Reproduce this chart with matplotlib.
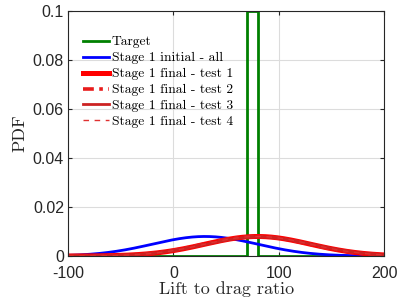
import numpy as np
import matplotlib.pyplot as plt

# target: uniform distribution on [low, high]
target_low, target_high = 70, 80

# normal fits (mean, std)
labels = ['Stage 1 initial - all', 'Stage 1 final - test 1', 'Stage 1 final - test 2',
          'Stage 1 final - test 3', 'Stage 1 final - test 4']
means = [30, 80, 79, 81, 80]
stds = [50, 50, 50, 51, 50]

x_ticks = [-100, 0, 100, 200]
y_ticks = [0, 0.02, 0.04, 0.06, 0.08, 0.1]

styles = [
    dict(color='#0000ff', lw=2.0, ls='-'),
    dict(color='#ff0000', lw=3.6, ls='-'),
    dict(color='#e81c1c', lw=2.6, ls=(0, (3, 1.5, 1, 1.5))),
    dict(color='#cc2222', lw=2.0, ls='-'),
    dict(color='#e03030', lw=1.0, ls=(0, (4, 4))),
]

serif = 'cmr10'
sans = 'Liberation Sans'

fig = plt.figure(figsize=(3.98, 3.03), dpi=100)
ax = fig.add_axes([0.171, 0.155, 0.794, 0.809])

x = np.linspace(-100, 200, 601)

tx = [-100, target_low, target_low, target_high, target_high, 200]
ty = [0, 0, 1 / (target_high - target_low), 1 / (target_high - target_low), 0, 0]
ax.plot(tx, ty, color='#008000', lw=2.0, label='Target', zorder=1)

for lab, m, s, st in zip(labels, means, stds, styles):
    pdf = np.exp(-0.5 * ((x - m) / s) ** 2) / (s * np.sqrt(2 * np.pi))
    ax.plot(x, pdf, label=lab, **st)

ax.set_xlim(-100, 200)
ax.set_ylim(0, 0.1)
ax.set_xticks(x_ticks)
ax.set_yticks(y_ticks)
ax.set_xticklabels(['-100', '0', '100', '200'], fontfamily=sans, fontsize=11.5)
ax.set_yticklabels(['0', '0.02', '0.04', '0.06', '0.08', '0.1'], fontfamily=sans, fontsize=11.5)
ax.tick_params(direction='in', top=True, right=True, length=3, width=0.8, colors='#262626')
ax.tick_params(axis='x', pad=7)
ax.tick_params(axis='y', pad=3)
ax.grid(True, color='#dcdcdc', lw=0.8)
ax.set_axisbelow(True)
for sp in ax.spines.values():
    sp.set_color('#262626')
    sp.set_linewidth(0.8)

ax.set_xlabel('Lift to drag ratio', fontfamily=serif, fontsize=13, color='#262626', labelpad=0)
ax.set_ylabel('PDF', fontfamily=serif, fontsize=13, color='#262626', labelpad=4)

leg = ax.legend(loc='upper left', bbox_to_anchor=(0.03, 0.92), borderaxespad=0,
                frameon=False, handlelength=1.9, handletextpad=0.2, labelspacing=0.25,
                prop={'family': serif, 'size': 9.8})

fig.savefig('out.png', dpi=100)
